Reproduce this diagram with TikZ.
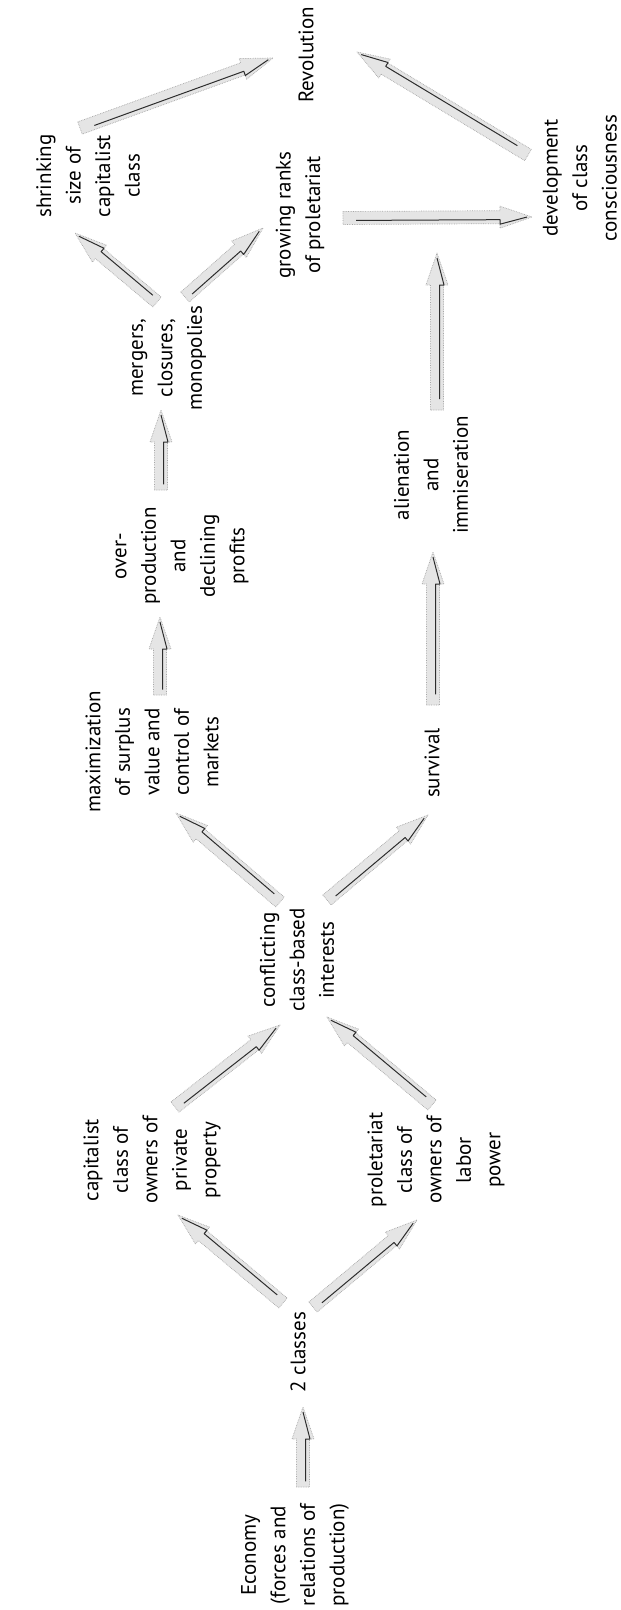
\documentclass[tikz,border=0pt]{standalone}
\usepackage{fontspec}
\setmainfont{PT Sans}
\usetikzlibrary{calc}
\tikzset{
  lbl/.style={rotate=90, align=center, inner sep=0pt, font=\fontsize{21}{29.5}\selectfont},
  blkbody/.style={fill=gray!20, draw=gray!70, line width=0.7pt, densely dotted, line join=round},
  streak/.style={draw=gray!35!black, line width=1pt, line join=round},
}
% #1 start node, #2 offset from its centre, #3 end node, #4 offset from its centre
\newcommand\conn[4]{%
  \coordinate (cA) at ($(#1)+(#2)$);
  \coordinate (cB) at ($(#3)+(#4)$);
  \coordinate (cH) at ($(cB)!32pt!(cA)$);
  \coordinate (cS) at ($(cA)!0.07!(cB)$);
  \filldraw[blkbody] ($(cA)!6.5pt!90:(cB)$) -- ($(cH)!6.5pt!90:(cB)$) -- ($(cH)!11pt!90:(cB)$)
     -- (cB) -- ($(cH)!11pt!-90:(cB)$) -- ($(cH)!6.5pt!-90:(cB)$) -- ($(cA)!6.5pt!-90:(cB)$) -- cycle;
  \draw[streak] ($(cS)!2.5pt!-90:(cB)$) -- ($(cH)!2.5pt!-90:(cB)$) -- ($(cH)!7pt!-90:(cB)$) -- ($(cB)!5pt!(cA)$);
}
\begin{document}
\begin{tikzpicture}[x=1pt,y=-1pt]
\fill[white] (0,0) rectangle (621,1610);
\useasboundingbox (0,0) rectangle (621,1610);

\node[lbl] (econ) at (295,1555) {Economy\\(forces and\\relations of\\production)};
\node[lbl] (twocl) at (298,1352) {2 classes};
\node[lbl] (cap) at (152,1160) {capitalist\\class of\\owners of\\private\\property};
\node[lbl] (prol) at (436,1160) {proletariat\\class of\\owners of\\labor\\power};
\node[lbl] (confl) at (297,960) {conflicting\\class-based\\interests};
\node[lbl] (maxi) at (152,752) {maximization\\of surplus\\value and\\control of\\markets};
\node[lbl] (surv) at (432,763) {survival};
\node[lbl] (over) at (182,556) {over-\\production\\and\\declining\\profits};
\node[lbl] (alien) at (431,475) {alienation\\and\\immiseration};
\node[lbl] (merg) at (169,358) {mergers,\\closures,\\monopolies};
\node[lbl] (grow) at (300,215) {growing ranks\\of proletariat};
\node[lbl] (shrink) at (88,176) {shrinking\\size of\\capitalist\\class};
\node[lbl] (devel) at (580,178) {development\\of class\\consciousness};
\node[lbl] (revol) at (306,55) {Revolution};
\coordinate (aend) at (437,253);

\conn{econ}{8,-68}{twocl}{5,55}
\conn{twocl}{-15,-49}{cap}{26,55}
\conn{twocl}{15,-45}{prol}{-19,60}
\conn{cap}{23,-53}{confl}{-17,65}
\conn{prol}{-4,-55}{confl}{30,57}
\conn{confl}{-17,-58}{maxi}{24,61}
\conn{confl}{30,-60}{surv}{-4,52}
\conn{maxi}{8,-57}{over}{-22,61}
\conn{over}{-21,-66}{merg}{-8,52}
\conn{surv}{1,-58}{alien}{2,77}
\conn{merg}{-12,-56}{shrink}{-13,57}
\conn{merg}{16,-61}{grow}{-37,13}
\conn{shrink}{-8,-48}{revol}{-33,3}
\conn{devel}{-52,-23}{revol}{51,-3}
\conn{grow}{43,3}{devel}{-48,39}
\conn{alien}{6,-65}{aend}{0,0}
\end{tikzpicture}
\end{document}
